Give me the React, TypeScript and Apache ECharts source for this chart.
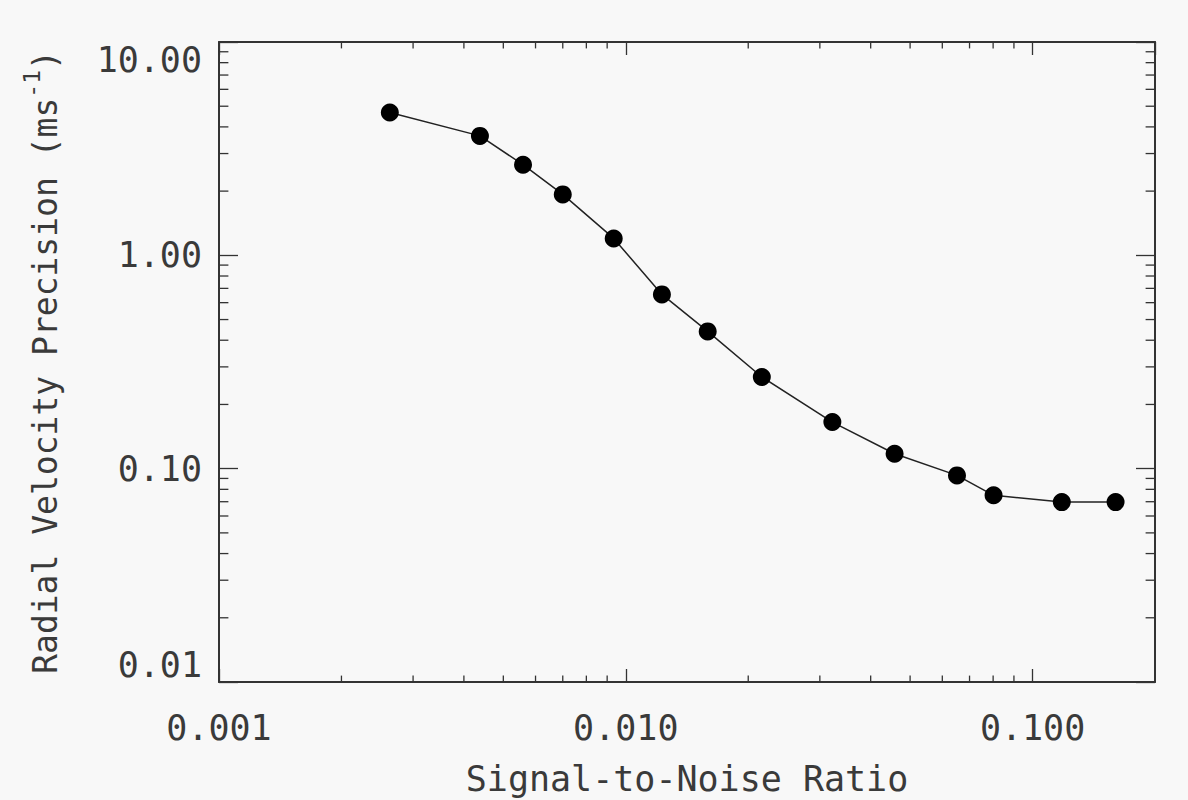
import React, { useEffect, useRef } from "react";
import * as echarts from "echarts";

// Signal-to-noise ratio (x) and radial velocity precision in m/s (y)
const snrValues = [0.00263, 0.00438, 0.00559, 0.0070, 0.00934, 0.01227, 0.0159, 0.0216, 0.0322, 0.0458, 0.0652, 0.0802, 0.118, 0.160];
const precisionValues = [4.67, 3.63, 2.66, 1.93, 1.20, 0.656, 0.440, 0.269, 0.1654, 0.1175, 0.0930, 0.0750, 0.0697, 0.0697];

const xRange = [0.001, 0.2];
const yRange = [0.01, 10];

// minor tick values (log axes: 2..9 times each decade)
const xMinorTicks = [0.002, 0.003, 0.004, 0.005, 0.006, 0.007, 0.008, 0.009, 0.02, 0.03, 0.04, 0.05, 0.06, 0.07, 0.08, 0.09];
const yMinorTicks = [0.02, 0.03, 0.04, 0.05, 0.06, 0.07, 0.08, 0.09, 0.2, 0.3, 0.4, 0.5, 0.6, 0.7, 0.8, 0.9, 2, 3, 4, 5, 6, 7, 8, 9];

const xTitle = "Signal-to-Noise Ratio";
const yTitleMain = "Radial Velocity Precision (ms";
const yTitleSup = "-1";

const FONT = "DejaVu Sans Mono";
const INK = "#333333";
const TEXT = "#3a3a3a";

export default function App() {
  const ref = useRef<HTMLDivElement>(null);

  useEffect(() => {
    if (!ref.current) return;
    const chart = echarts.init(ref.current, null, { renderer: "svg" });

    const axisCommon = {
      type: "log" as const,
      logBase: 10,
      axisLine: { show: true, lineStyle: { color: INK, width: 2 } },
      splitLine: { show: false },
    };

    const minorTickRenderer = (dir: "x" | "y", xLen: number, yLen: number) =>
      (params: any, api: any) => {
        const cs = params.coordSys;
        const style = { stroke: INK, lineWidth: 1.3 };
        if (dir === "x") {
          const p = api.coord([api.value(0), 1]);
          const bottom = cs.y + cs.height;
          return {
            type: "group",
            children: [
              { type: "line", shape: { x1: p[0], y1: bottom, x2: p[0], y2: bottom - xLen }, style },
              { type: "line", shape: { x1: p[0], y1: cs.y, x2: p[0], y2: cs.y + xLen }, style },
            ],
          };
        }
        const p = api.coord([0.01, api.value(1)]);
        const right = cs.x + cs.width;
        return {
          type: "group",
          children: [
            { type: "line", shape: { x1: cs.x, y1: p[1], x2: cs.x + yLen, y2: p[1] }, style },
            { type: "line", shape: { x1: right, y1: p[1], x2: right - yLen, y2: p[1] }, style },
          ],
        };
      };

    chart.setOption({
      animation: false,
      backgroundColor: "#f8f8f8",
      textStyle: { fontFamily: FONT },
      grid: { left: 219, top: 42, width: 936, height: 640, outerBoundsMode: "none", containLabel: false },
      xAxis: [
        {
          ...axisCommon,
          position: "bottom",
          min: xRange[0],
          max: xRange[1],
          axisTick: { show: true, inside: true, length: 13, lineStyle: { color: INK, width: 1.3 } },
          axisLabel: {
            show: true,
            margin: 28,
            fontFamily: FONT,
            fontSize: 35,
            color: TEXT,
            showMaxLabel: false,
            formatter: (v: number) => v.toFixed(3),
          },
          name: xTitle,
          nameLocation: "middle",
          nameGap: 79,
          nameTextStyle: { fontFamily: FONT, fontSize: 35, color: TEXT },
        },
        {
          ...axisCommon,
          position: "top",
          min: xRange[0],
          max: xRange[1],
          axisTick: { show: true, inside: true, length: 13, lineStyle: { color: INK, width: 1.3 } },
          axisLabel: { show: false },
        },
      ],
      yAxis: [
        {
          ...axisCommon,
          position: "left",
          min: yRange[0],
          max: yRange[1],
          axisTick: { show: true, inside: true, length: 19, lineStyle: { color: INK, width: 1.3 } },
          axisLabel: {
            show: true,
            margin: 17,
            fontFamily: FONT,
            fontSize: 35,
            color: TEXT,
            verticalAlignMinLabel: "bottom",
            verticalAlignMaxLabel: "top",
            formatter: (v: number) => v.toFixed(2),
          },
          name: `{a|${yTitleMain}}{sup|${yTitleSup}}{a|)}`,
          nameLocation: "middle",
          nameGap: 157,
          nameTextStyle: {
            fontFamily: FONT,
            color: TEXT,
            rich: {
              a: { fontFamily: FONT, fontSize: 33, color: TEXT, lineHeight: 42, verticalAlign: "bottom" },
              sup: { fontFamily: FONT, fontSize: 23, color: TEXT, lineHeight: 23, verticalAlign: "top" },
            },
          },
        },
        {
          ...axisCommon,
          position: "right",
          min: yRange[0],
          max: yRange[1],
          axisTick: { show: true, inside: true, length: 19, lineStyle: { color: INK, width: 1.3 } },
          axisLabel: { show: false },
        },
      ],
      series: [
        {
          type: "custom",
          silent: true,
          xAxisIndex: 0,
          yAxisIndex: 0,
          clip: false,
          renderItem: minorTickRenderer("x", 6.4, 9.4),
          data: xMinorTicks.map((v) => [v, 1]),
          z: 1,
        },
        {
          type: "custom",
          silent: true,
          xAxisIndex: 0,
          yAxisIndex: 0,
          clip: false,
          renderItem: minorTickRenderer("y", 6.4, 9.4),
          data: yMinorTicks.map((v) => [0.01, v]),
          z: 1,
        },
        {
          type: "line",
          xAxisIndex: 0,
          yAxisIndex: 0,
          data: snrValues.map((x, i) => [x, precisionValues[i]]),
          symbol: "circle",
          symbolSize: 18,
          itemStyle: { color: "#000000" },
          lineStyle: { color: "#222222", width: 1.5 },
          z: 3,
        },
      ],
    });

    return () => chart.dispose();
  }, []);

  return (
    <div
      ref={ref}
      style={{ position: "fixed", left: 0, top: 0, width: 1188, height: 800, background: "#f8f8f8" }}
    />
  );
}
